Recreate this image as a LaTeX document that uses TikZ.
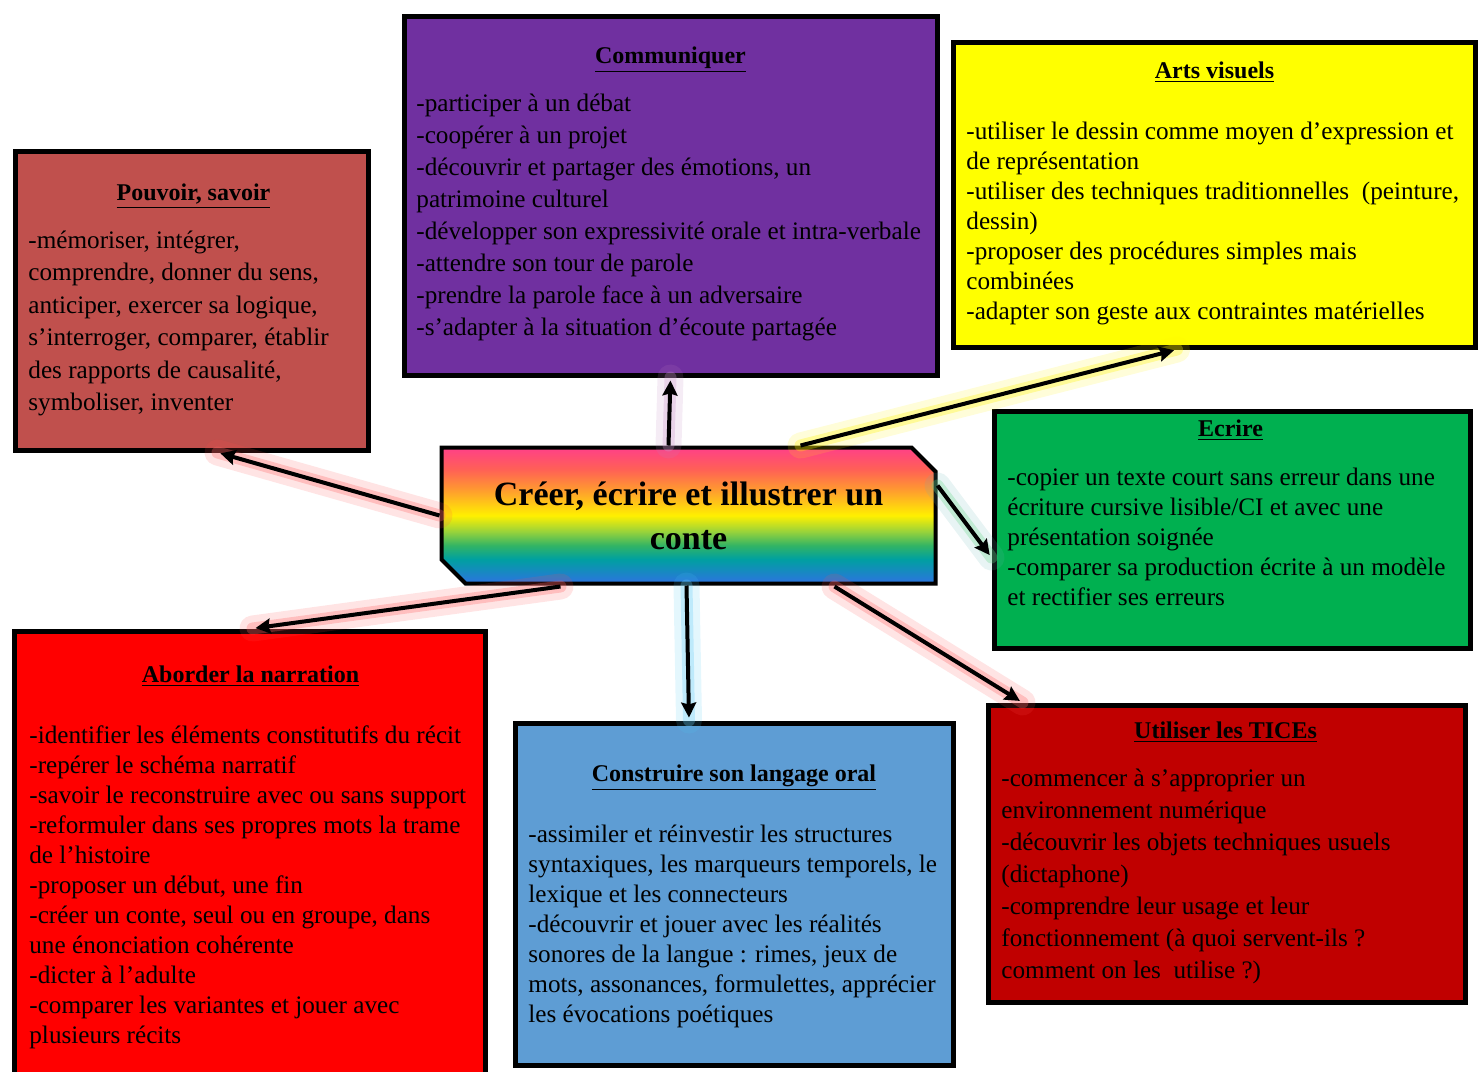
\documentclass[tikz,border=0pt]{standalone}
\usepackage{fontspec}
\setmainfont{Liberation Serif}
\usetikzlibrary{positioning,shapes.misc,arrows.meta}

\definecolor{pouvfill}{RGB}{192,80,77}
\definecolor{commfill}{RGB}{112,48,160}
\definecolor{artsfill}{RGB}{255,255,0}
\definecolor{ecrfill}{RGB}{0,176,80}
\definecolor{ticefill}{RGB}{192,0,0}
\definecolor{constrfill}{RGB}{94,157,212}
\definecolor{abordfill}{RGB}{255,0,0}

\definecolor{hubpink}{RGB}{255,64,136}
\definecolor{hubcoral}{RGB}{255,96,86}
\definecolor{huborange}{RGB}{255,150,50}
\definecolor{hubyellow}{RGB}{255,240,0}
\definecolor{hublime}{RGB}{150,210,60}
\definecolor{hubgreen}{RGB}{50,180,100}
\definecolor{hubteal}{RGB}{0,160,160}
\definecolor{hubblue}{RGB}{45,115,225}
\pgfdeclareverticalshading{rainbow}{100bp}{color(0bp)=(hubblue); color(25bp)=(hubblue); color(34bp)=(hubteal); color(39bp)=(hubgreen); color(44bp)=(hublime); color(50bp)=(hubyellow); color(60bp)=(huborange); color(67bp)=(hubcoral); color(75bp)=(hubpink); color(100bp)=(hubpink)}

\begin{document}
\begin{tikzpicture}[x=0.5pt, y=-0.5pt,
  box/.style = {draw, line width=2.5pt, anchor=north west, inner sep=0pt},
  head/.style = {font=\fontsize{12}{14}\selectfont\bfseries, anchor=base, inner sep=0pt},
  body/.style = {align=left, anchor=north west, inner sep=0pt, font=\fontsize{12.6}{#1}\selectfont},
  body/.default = 15,
  hub/.style = {chamfered rectangle, chamfered rectangle corners={north east,south west},
    chamfered rectangle xsep=6pt, chamfered rectangle ysep=6pt, draw, line width=2pt,
    shading=rainbow, minimum width=247pt, minimum height=68pt, inner sep=0pt,
    align=center, font=\fontsize{17}{22}\selectfont\bfseries},
  link/.style = {-{Stealth[length=7.5pt,width=7.5pt,inset=1pt]}, line width=2pt, shorten >=1.5pt},
  glow/.style = {-, draw=#1, line width=13pt, draw opacity=.15, line cap=round, shorten >=0pt},
  halo/.style = {-, draw=#1, line width=6pt, draw opacity=.3, line cap=round, shorten >=0pt}]

  \useasboundingbox (0,0) rectangle (1482,1071);

  % boxes
  \node[box, fill=pouvfill, minimum width=176.5pt, minimum height=149.5pt] (pouv) at (12.5,148.5) {};
  \node[box, fill=commfill, minimum width=266.5pt, minimum height=179.5pt] (comm) at (401.5,13.5) {};
  \node[box, fill=artsfill, minimum width=261pt, minimum height=152.5pt] (arts) at (950.5,39.5) {};
  \node[box, fill=ecrfill, minimum width=238pt, minimum height=118.5pt] (ecr) at (991.5,408.5) {};
  \node[box, fill=ticefill, minimum width=238.5pt, minimum height=148.5pt] (tice) at (985.5,702.5) {};
  \node[box, fill=constrfill, minimum width=219pt, minimum height=171pt] (constr) at (512.5,720.5) {};
  \node[box, fill=abordfill, minimum width=235.5pt, minimum height=230pt] (abord) at (11.5,628.5) {};

  % titles
  \node[head] (pouvt) at ([shift={(2,52)}]pouv.north) {\underline{Pouvoir, savoir}};
  \node[head] (commt) at ([shift={(0,50)}]comm.north) {\underline{Communiquer}};
  \node[head] (artst) at ([shift={(0.5,39)}]arts.north) {\underline{Arts visuels}};
  \node[head] (ecrt) at ([shift={(-1.5,28)}]ecr.north) {\underline{Ecrire}};
  \node[head] (ticet) at ([shift={(-1,36)}]tice.north) {\underline{Utiliser les TICEs}};
  \node[head] (constrt) at ([shift={(0,61)}]constr.north) {\underline{Construire son langage oral}};
  \node[head] (abordt) at ([shift={(1,54)}]abord.north) {\underline{Aborder la narration}};

  % texts
  \node[body=16.2] (pouvb) at ([shift={(15.5,82)}]pouv.north west) {-mémoriser, intégrer,\\comprendre, donner du sens,\\anticiper, exercer sa logique,\\s'interroger, comparer, établir\\des rapports de causalité,\\symboliser, inventer};
  \node[body=16] (commb) at ([shift={(14.5,80)}]comm.north west) {-participer à un débat\\-coopérer à un projet\\-découvrir et partager des émotions, un\\patrimoine culturel\\-développer son expressivité orale et intra-verbale\\-attendre son tour de parole\\-prendre la parole face à un adversaire\\-s'adapter à la situation d'écoute partagée};
  \node[body] (artsb) at ([shift={(15.5,82)}]arts.north west) {-utiliser le dessin comme moyen d'expression et\\de représentation\\-utiliser des techniques traditionnelles~ (peinture,\\dessin)\\-proposer des procédures simples mais\\combinées\\-adapter son geste aux contraintes matérielles};
  \node[body] (ecrb) at ([shift={(15.5,59)}]ecr.north west) {-copier un texte court sans erreur dans une\\écriture cursive lisible/CI et avec une\\présentation soignée\\-comparer sa production écrite à un modèle\\et rectifier ses erreurs};
  \node[body=16] (ticeb) at ([shift={(15.5,66)}]tice.north west) {-commencer à s'approprier un\\environnement numérique\\-découvrir les objets techniques usuels\\(dictaphone)\\-comprendre leur usage et leur\\fonctionnement (à quoi servent-ils ?\\comment on les~ utilise ?)};
  \node[body] (constrb) at ([shift={(15.5,104)}]constr.north west) {-assimiler et réinvestir les structures\\syntaxiques, les marqueurs temporels, le\\lexique et les connecteurs\\-découvrir et jouer avec les réalités\\sonores de la langue : rimes, jeux de\\mots, assonances, formulettes, apprécier\\les évocations poétiques};
  \node[body] (abordb) at ([shift={(17.5,97)}]abord.north west) {-identifier les éléments constitutifs du récit\\-repérer le schéma narratif\\-savoir le reconstruire avec ou sans support\\-reformuler dans ses propres mots la trame\\de l'histoire\\-proposer un début, une fin\\-créer un conte, seul ou en groupe, dans\\une énonciation cohérente\\-dicter à l'adulte\\-comparer les variantes et jouer avec\\plusieurs récits};

  % centre
  \node[hub] (ctr) at (688.5,515.5) {Créer, écrire et illustrer un\\conte};

  % arrows
  \draw[link, preaction={glow=red!70}, preaction={halo=red!60}] (ctr.west) -- ([shift={(26,0)}]pouv.south);
  \draw[link, preaction={glow=violet!50}, preaction={halo=violet!40}] ([shift={(-20,0)}]ctr.north) -- (comm.south);
  \draw[link, preaction={glow=yellow}, preaction={halo=yellow}] ([shift={(112,0)}]ctr.north) -- ([shift={(-37,0)}]arts.south);
  \draw[link, preaction={glow=teal!60}, preaction={halo=green!50!teal!60}] ([shift={(0,-30)}]ctr.east) -- ([shift={(0,28)}]ecr.west);
  \draw[link, preaction={glow=red!70}, preaction={halo=red!60}] ([shift={(146,1)}]ctr.south) -- ([shift={(37,0)}]tice.north west);
  \draw[link, preaction={glow=cyan!70}, preaction={halo=cyan!60}] ([shift={(-2,0)}]ctr.south) -- ([shift={(-45,0)}]constr.north);
  \draw[link, preaction={glow=red!70}, preaction={halo=red!60}] ([shift={(-128,1)}]ctr.south) -- ([shift={(3,0)}]abord.north);
\end{tikzpicture}
\end{document}
